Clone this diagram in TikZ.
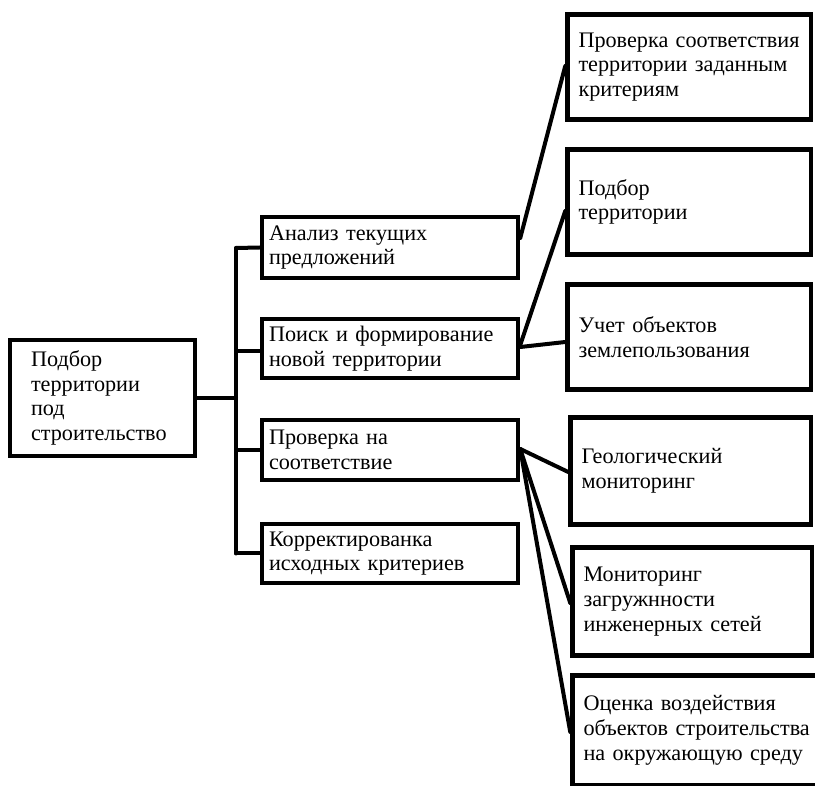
\documentclass[tikz,border=0pt]{standalone}
\usepackage{fontspec}
\setmainfont{Liberation Serif}
\begin{document}
\begin{tikzpicture}[x=1pt,y=-1pt,
  box/.style={draw, line width=4.5pt, rectangle, align=left, inner ysep=0pt,
    font=\fontsize{22.2}{24.8}\selectfont},
  lbox/.style={box, line width=4pt, inner xsep=21pt, text width=143pt},
  mbox/.style={box, inner xsep=7pt, text width=242pt},
  rbox/.style={box, inner xsep=11pt},
  conn/.style={line width=4pt, line cap=round}]
\fill[white] (0,0) rectangle (815,786);
\useasboundingbox (0,0) rectangle (815,786);

% left box
\node[lbox, minimum height=116pt] (L) at (102.5,398) {\mbox{Подбор}\\\mbox{территории}\\\mbox{под}\\\mbox{строительство}};

% middle boxes
\node[mbox, minimum height=61pt] (A) at (390,247.5) {\mbox{Анализ текущих}\\\mbox{предложений}};
\node[mbox, minimum height=59pt] (B) at (390,348.5) {\mbox{Поиск и формирование}\\\mbox{новой территории}};
\node[mbox, minimum height=60pt] (C) at (390,450) {\mbox{Проверка на}\\\mbox{соответствие}};
\node[mbox, minimum height=59pt] (D) at (390,553.5) {\mbox{Корректированка}\\\mbox{исходных критериев}};

% right boxes
\node[rbox, text width=221.5pt, minimum height=105pt] (R1) at (689.25,67) {\mbox{Проверка соответствия}\\\mbox{территории заданным}\\\mbox{критериям}};
\node[rbox, text width=221.5pt, minimum height=105pt] (R2) at (689.25,202) {\mbox{Подбор}\\\mbox{территории}};
\node[rbox, text width=221.5pt, minimum height=105pt] (R3) at (689.25,337) {\mbox{Учет объектов}\\\mbox{землепользования}};
\node[rbox, text width=218.5pt, minimum height=107pt] (R4) at (690.75,471) {\mbox{Геологический}\\\mbox{мониторинг}};
\node[rbox, text width=217.5pt, minimum height=108pt] (R5) at (692.25,601.5) {\mbox{Мониторинг}\\\mbox{загружнности}\\\mbox{инженерных сетей}};
\node[rbox, text width=223.5pt, minimum height=109.5pt] (R6) at (695.25,730) {\mbox{Оценка воздействия}\\\mbox{объектов строительства}\\\mbox{на окружающую среду}};

% trunk
\coordinate (T) at (236,398);
\coordinate (Ttop) at (236,248);
\coordinate (Tbot) at (236,553.5);
\draw[conn] (L.east) -- (T);
\draw[conn] (Ttop) -- (Tbot);
\draw[conn] (Ttop) -- (A.west);
\draw[conn] ([yshift=-3pt]B.west -| T) -- ([yshift=-3pt]B.west);
\draw[conn] (C.west -| T) -- (C.west);
\draw[conn] (Tbot) -- (D.west);

% fan-out connectors
\draw[conn] ([yshift=9.5pt]A.east) -- ([yshift=1pt]R1.west);
\draw[conn] ([yshift=3.5pt]B.east) -- ([yshift=-9pt]R2.west);
\draw[conn] ([yshift=1.5pt]B.east) -- ([yshift=-5pt]R3.west);
\draw[conn] ([yshift=1pt]C.east) -- ([yshift=-1pt]R4.west);
\draw[conn] ([yshift=1pt]C.east) -- ([yshift=-1.5pt]R5.west);
\draw[conn] ([yshift=1pt]C.east) -- ([yshift=-2pt]R6.west);
\end{tikzpicture}
\end{document}
